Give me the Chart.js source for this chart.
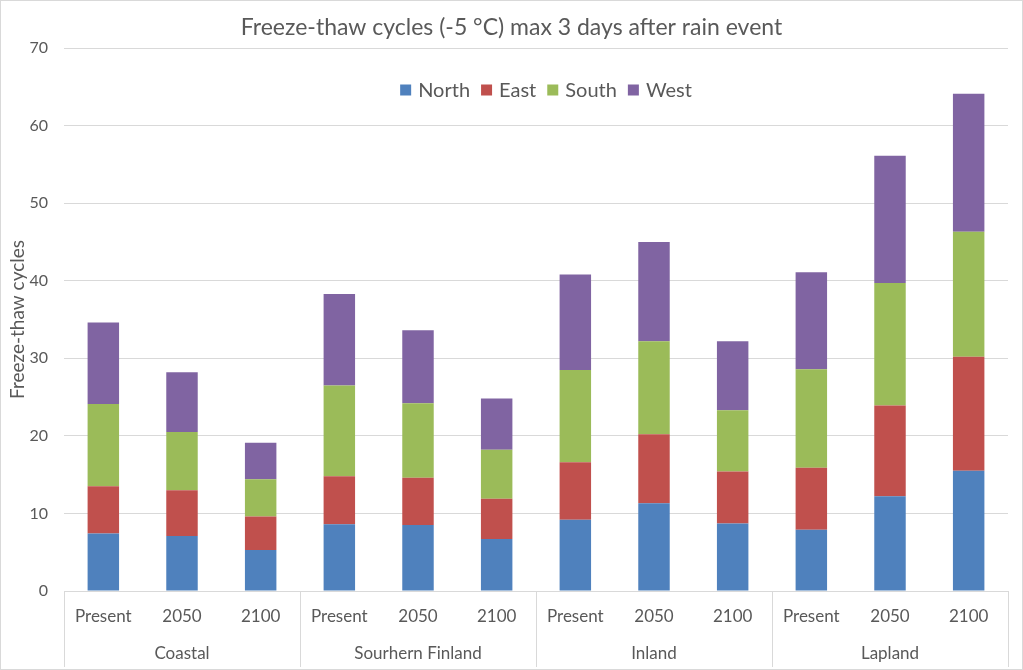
<!DOCTYPE html>
<html>
<head>
<meta charset="utf-8">
<script src="https://cdn.jsdelivr.net/npm/chart.js"></script>
<style>
	html, body { margin: 0; padding: 0; background: #fff; }
</style>
</head>
<body>
<canvas id="chart" width="1023" height="670"></canvas>
<script>
// data
const title = 'Freeze-thaw cycles (-5 °C) max 3 days after rain event'
const periods = ['Present', '2050', '2100']
const regions = ['Coastal', 'Sourhern Finland', 'Inland', 'Lapland']
const north = [7.4, 7.1, 5.3, 8.6, 8.5, 6.7, 9.2, 11.3, 8.7, 7.9, 12.2, 15.5]
const east = [6.1, 5.9, 4.3, 6.2, 6.1, 5.2, 7.4, 8.9, 6.7, 8.0, 11.7, 14.7]
const south = [10.6, 7.5, 4.8, 11.7, 9.6, 6.3, 11.9, 12.0, 7.9, 12.7, 15.8, 16.1]
const west = [10.5, 7.7, 4.7, 11.8, 9.4, 6.6, 12.3, 12.8, 8.9, 12.5, 16.4, 17.8]
const yTicks = [0, 10, 20, 30, 40, 50, 60, 70]

const labels = regions.flatMap(() => periods)
const font = 'Lato, "Liberation Sans", sans-serif'
const textColor = '#595959'
const lineColor = '#d9d9d9'

// background, frame, title, group labels, legend
const extras = {
	id: 'extras',
	beforeDraw(chart) {
		const ctx = chart.ctx
		ctx.save()
		ctx.fillStyle = '#fff'
		ctx.fillRect(0, 0, chart.width, chart.height)
		ctx.restore()
	},
	afterDraw(chart) {
		const { ctx, chartArea } = chart
		const x = chart.scales.x
		ctx.save()
		ctx.strokeStyle = lineColor
		ctx.lineWidth = 1
		ctx.strokeRect(0.5, 0.5, chart.width - 1, chart.height - 1)

		// title, centred on the whole picture
		ctx.fillStyle = textColor
		ctx.font = '23px ' + font
		ctx.textAlign = 'center'
		ctx.textBaseline = 'middle'
		ctx.fillText(title, chart.width / 2, 28)

		// region row
		const step = x.width / labels.length
		const bottom = chart.height - 3
		ctx.font = '17px ' + font
		regions.forEach((r, i) => {
			const first = x.getPixelForValue(i * periods.length)
			const last = x.getPixelForValue((i + 1) * periods.length - 1)
			const edges = [first - step / 2]
			if (i === regions.length - 1) edges.push(last + step / 2)
			edges.forEach((e) => {
				const px = Math.round(e) + 0.5
				ctx.beginPath()
				ctx.moveTo(px, chartArea.bottom)
				ctx.lineTo(px, bottom)
				ctx.stroke()
			})
			ctx.fillText(r, (first + last) / 2, 654)
		})

		// legend inside the plot
		const items = chart.data.datasets
		ctx.font = '20px ' + font
		const box = 11
		const gap = 7
		const spacing = 11
		const widths = items.map((d) => box + gap + ctx.measureText(d.label).width)
		const total = widths.reduce((a, b) => a + b, 0) + spacing * (items.length - 1)
		let lx = 546 - total / 2
		const ly = 90
		ctx.textAlign = 'left'
		items.forEach((d, i) => {
			ctx.fillStyle = d.backgroundColor
			ctx.fillRect(lx, ly - box / 2, box, box)
			ctx.fillStyle = textColor
			ctx.fillText(d.label, lx + box + gap, ly + 1)
			lx += widths[i] + spacing
		})
		ctx.restore()
	},
}

new Chart(document.getElementById('chart'), {
	type: 'bar',
	data: {
		labels: labels,
		datasets: [
			{ label: 'North', data: north, backgroundColor: '#4f81bd' },
			{ label: 'East', data: east, backgroundColor: '#c0504d' },
			{ label: 'South', data: south, backgroundColor: '#9bbb59' },
			{ label: 'West', data: west, backgroundColor: '#8064a2' },
		],
	},
	options: {
		responsive: false,
		animation: false,
		layout: { padding: { left: 0, right: 15, top: 48, bottom: 45 } },
		datasets: { bar: { barPercentage: 0.4, categoryPercentage: 1 } },
		plugins: {
			legend: { display: false },
			tooltip: { enabled: false },
			title: { display: false },
		},
		scales: {
			x: {
				stacked: true,
				grid: { display: false, drawTicks: false },
				border: { display: true, color: lineColor },
				ticks: {
					color: textColor,
					font: { family: font, size: 17 },
					padding: 15,
					maxRotation: 0,
					autoSkip: false,
				},
				afterFit(s) { s.height = 34 },
			},
			y: {
				stacked: true,
				min: 0,
				max: 70,
				afterBuildTicks(s) { s.ticks = yTicks.map((v) => ({ value: v })) },
				grid: { color: lineColor, drawTicks: false },
				border: { display: false },
				ticks: {
					color: textColor,
					font: { family: font, size: 16 },
					padding: 16,
				},
				title: {
					display: true,
					text: 'Freeze-thaw cycles',
					color: textColor,
					font: { family: font, size: 19 },
					padding: { top: 6, bottom: 0 },
				},
				afterFit(s) { s.width = 64 },
			},
		},
	},
	plugins: [extras],
})
</script>
</body>
</html>
